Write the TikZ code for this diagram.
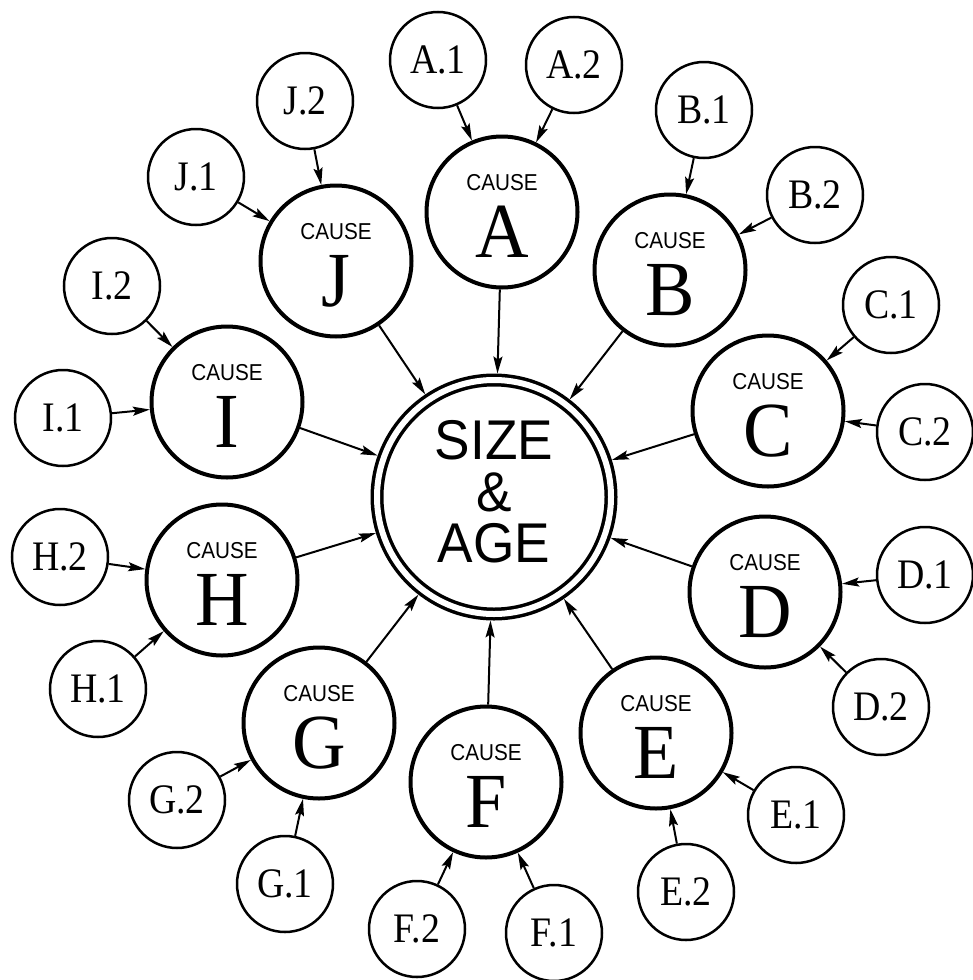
\documentclass[tikz,border=0pt]{standalone}
\usepackage{fontspec}
\newfontfamily\smallf[FakeStretch=0.9]{Liberation Serif}
\newfontfamily\bigf[FakeStretch=0.95]{Liberation Serif}
\newfontfamily\causef[FakeStretch=0.9]{Liberation Sans}
\newfontfamily\sizef[FakeStretch=0.95]{Liberation Sans}
\usetikzlibrary{arrows.meta}
\newcommand\causenode[3]{%
  \node[cause] (#1) at (#2) {};
  \node[causeword] (#1w) at ([yshift=22pt]#1.center) {CAUSE};
  \node[causeletter] (#1l) at ([yshift=-45pt]#1.center) {#3};
}
\begin{document}
\begin{tikzpicture}[x=1pt,y=-1pt,
  sub/.style={circle,draw,line width=2.5pt,minimum size=96pt,inner sep=0pt,font=\smallf\fontsize{42}{42}\selectfont},
  cause/.style={circle,draw,line width=4pt,minimum size=151pt,inner sep=0pt},
  causeword/.style={anchor=base,inner sep=0pt,font=\causef\fontsize{23}{23}\selectfont},
  causeletter/.style={anchor=base,inner sep=0pt,font=\bigf\fontsize{78}{78}\selectfont},
  arr/.style={line width=2pt,-{Stealth[length=17pt,width=9pt,inset=3pt]}},
]
\useasboundingbox (0,0) rectangle (973,980);
% centre
\node[circle,draw,line width=3.5pt,double,double distance=6pt,minimum size=234pt,inner sep=0pt,outer sep=6.5pt] (S) at (494,497) {};
\node[font=\sizef\fontsize{56}{51.5}\selectfont,align=center,inner sep=0pt] (St) at ([yshift=5pt]S.center) {SIZE\\\&\\AGE};
% causes
\causenode{A}{502,212}{A}
\causenode{B}{670,270}{B}
\causenode{C}{768,411}{C}
\causenode{D}{765,592}{D}
\causenode{E}{656,733}{E}
\causenode{F}{486,782}{F}
\causenode{G}{319,723}{G}
\causenode{H}{222,580}{H}
\causenode{I}{227,402}{I}
\causenode{J}{336,261}{J}
% sub causes
\node[sub] (A1) at (438,60) {A.1};
\node[sub] (A2) at (574,65) {A.2};
\node[sub] (B1) at (704,110) {B.1};
\node[sub] (B2) at (815,195) {B.2};
\node[sub] (C1) at (891,305) {C.1};
\node[sub] (C2) at (925,432) {C.2};
\node[sub] (D1) at (925,575) {D.1};
\node[sub] (D2) at (881,707) {D.2};
\node[sub] (E1) at (796,815) {E.1};
\node[sub] (E2) at (686,892) {E.2};
\node[sub] (F1) at (554,933) {F.1};
\node[sub] (F2) at (417,929) {F.2};
\node[sub] (G1) at (285,884) {G.1};
\node[sub] (G2) at (177,800) {G.2};
\node[sub] (H1) at (98,689) {H.1};
\node[sub] (H2) at (60,557) {H.2};
\node[sub] (I1) at (63,418) {I.1};
\node[sub] (I2) at (112,286) {I.2};
\node[sub] (J1) at (196,177) {J.1};
\node[sub] (J2) at (305,101) {J.2};
% arrows
\foreach \c in {A,B,C,D,E,F,G,H,I,J}{
  \draw[arr] (\c) -- (S);
  \draw[arr] (\c1) -- (\c);
  \draw[arr] (\c2) -- (\c);
}
\end{tikzpicture}
\end{document}
